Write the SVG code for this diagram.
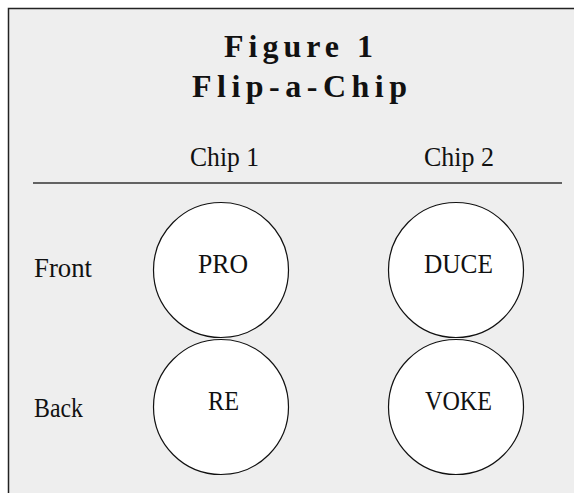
<svg xmlns="http://www.w3.org/2000/svg" width="574" height="493" viewBox="0 0 574 493">
  <style>
    text { font-family: "Liberation Serif", "DejaVu Serif", serif; fill: #111; }
    .title { font-size: 32px; font-weight: bold; }
    .lbl { font-size: 28px; }
    .chip { fill: #ffffff; stroke: #111; stroke-width: 1.2; }
  </style>
  <rect x="0" y="0" width="574" height="493" fill="#ffffff"/>
  <rect x="8.5" y="8.5" width="580" height="500" fill="#eeeeee" stroke="#222" stroke-width="1.5"/>

  <g id="title">
    <text class="title" x="224" y="57" textLength="149" lengthAdjust="spacing">Figure 1</text>
    <text class="title" x="192" y="97" textLength="215" lengthAdjust="spacing">Flip-a-Chip</text>
  </g>

  <g id="headers">
    <text class="lbl" x="190" y="166" textLength="69" lengthAdjust="spacingAndGlyphs">Chip 1</text>
    <text class="lbl" x="424" y="166" textLength="70" lengthAdjust="spacingAndGlyphs">Chip 2</text>
    <line x1="33" y1="183" x2="562" y2="183" stroke="#333" stroke-width="1.5"/>
  </g>

  <g id="labels">
    <text class="lbl" x="34" y="277" textLength="58" lengthAdjust="spacingAndGlyphs">Front</text>
    <text class="lbl" x="34" y="417" textLength="49" lengthAdjust="spacingAndGlyphs">Back</text>
  </g>

  <g id="chip1-front">
    <circle class="chip" cx="221" cy="270" r="67.5"/>
    <text class="lbl" x="198" y="273" textLength="50" lengthAdjust="spacingAndGlyphs">PRO</text>
  </g>
  <g id="chip1-back">
    <circle class="chip" cx="221" cy="407" r="67.5"/>
    <text class="lbl" x="208" y="410" textLength="31" lengthAdjust="spacingAndGlyphs">RE</text>
  </g>
  <g id="chip2-front">
    <circle class="chip" cx="456" cy="270" r="67.5"/>
    <text class="lbl" x="424" y="273" textLength="69" lengthAdjust="spacingAndGlyphs">DUCE</text>
  </g>
  <g id="chip2-back">
    <circle class="chip" cx="456" cy="407" r="67.5"/>
    <text class="lbl" x="425" y="410" textLength="67" lengthAdjust="spacingAndGlyphs">VOKE</text>
  </g>

  <g id="connectors"></g>
</svg>
